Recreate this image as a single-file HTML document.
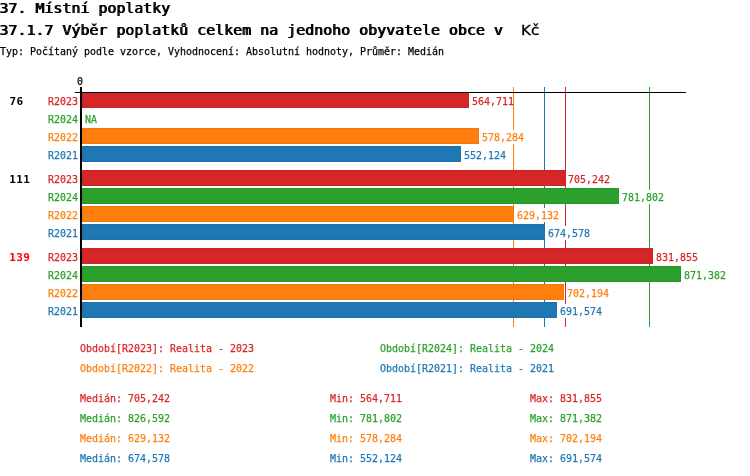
<!DOCTYPE html>
<html lang="cs"><head><meta charset="utf-8"><title>37. Místní poplatky</title>
<style>
html,body{margin:0;padding:0;background:#fff;}
body{width:750px;height:476px;position:relative;overflow:hidden;font-family:"DejaVu Sans Mono","Liberation Mono",monospace;font-size:11px;color:#000;}
.t{position:absolute;white-space:pre;line-height:14px;height:14px;-webkit-text-stroke:0.25px currentColor;transform:scaleX(0.9060);transform-origin:0 0;}
.h{-webkit-text-stroke:0;font-size:13.7px;text-shadow:0.9px 0 0 currentColor;line-height:16px;height:16px;transform:scaleX(1.0912);}
.k{position:absolute;font-family:"DejaVu Sans","Liberation Sans",sans-serif;-webkit-text-stroke:0.3px #000;font-size:13.5px;transform:scaleX(1.12);transform-origin:0 0;line-height:20px;height:20px;white-space:pre;}
.n{-webkit-text-stroke:0;font-weight:bold;transform:none;letter-spacing:0.38px;}
.b{position:absolute;height:16px;left:82px;box-shadow:inset 0 0 0 1px rgba(0,0,0,.06);}
.l{position:absolute;width:1px;top:87px;height:240px;}
.w{position:absolute;height:14px;width:42px;background:#fff;}
.r{color:#d62728}.g{color:#2ca02c}.o{color:#ff7f0e}.u{color:#1f77b4}
.br{background:#d62728}.bg{background:#2ca02c}.bo{background:#ff7f0e}.bu{background:#1f77b4}
</style></head><body>

<div class="t h" style="left:-1px;top:0px;">37. Místní poplatky</div>
<div class="t h" style="left:-1px;top:22px;">37.1.7 Výběr poplatků celkem na jednoho obyvatele obce v  </div>
<div class="k" style="left:521px;top:20px">Kč</div>
<div class="t " style="left:0px;top:45px;">Typ: Počítaný podle vzorce, Vyhodnocení: Absolutní hodnoty, Průměr: Medián</div>
<div class="t " style="left:77px;top:75px;">0</div>
<div class="l bo" style="left:513px"></div>
<div class="l bu" style="left:544px"></div>
<div class="l br" style="left:565px"></div>
<div class="l bg" style="left:649px"></div>
<div class="t n" style="left:9.5px;top:95px;color:#000">76</div>
<div class="t r" style="left:47.7px;top:95px;">R2023</div>
<div class="b br" style="top:92px;width:387px"></div>
<div class="w" style="left:471px;top:94px"></div>
<div class="t r" style="left:472.2px;top:95px;">564,711</div>
<div class="t g" style="left:47.7px;top:113px;">R2024</div>
<div class="t g" style="left:85px;top:113px;">NA</div>
<div class="t o" style="left:47.7px;top:131px;">R2022</div>
<div class="b bo" style="top:128px;width:397px"></div>
<div class="w" style="left:481px;top:130px"></div>
<div class="t o" style="left:482.2px;top:131px;">578,284</div>
<div class="t u" style="left:47.7px;top:149px;">R2021</div>
<div class="b bu" style="top:146px;width:379px"></div>
<div class="w" style="left:463px;top:148px"></div>
<div class="t u" style="left:464.2px;top:149px;">552,124</div>
<div class="t n" style="left:9.3px;top:173px;color:#000">111</div>
<div class="t r" style="left:47.7px;top:173px;">R2023</div>
<div class="b br" style="top:170px;width:483px"></div>
<div class="w" style="left:567px;top:172px"></div>
<div class="t r" style="left:568.2px;top:173px;">705,242</div>
<div class="t g" style="left:47.7px;top:191px;">R2024</div>
<div class="b bg" style="top:188px;width:537px"></div>
<div class="w" style="left:621px;top:190px"></div>
<div class="t g" style="left:622.2px;top:191px;">781,802</div>
<div class="t o" style="left:47.7px;top:209px;">R2022</div>
<div class="b bo" style="top:206px;width:432px"></div>
<div class="w" style="left:516px;top:208px"></div>
<div class="t o" style="left:517.2px;top:209px;">629,132</div>
<div class="t u" style="left:47.7px;top:227px;">R2021</div>
<div class="b bu" style="top:224px;width:463px"></div>
<div class="w" style="left:547px;top:226px"></div>
<div class="t u" style="left:548.2px;top:227px;">674,578</div>
<div class="t n" style="left:9.3px;top:251px;color:#f00">139</div>
<div class="t r" style="left:47.7px;top:251px;">R2023</div>
<div class="b br" style="top:248px;width:571px"></div>
<div class="w" style="left:655px;top:250px"></div>
<div class="t r" style="left:656.2px;top:251px;">831,855</div>
<div class="t g" style="left:47.7px;top:269px;">R2024</div>
<div class="b bg" style="top:266px;width:599px"></div>
<div class="w" style="left:683px;top:268px"></div>
<div class="t g" style="left:684.2px;top:269px;">871,382</div>
<div class="t o" style="left:47.7px;top:287px;">R2022</div>
<div class="b bo" style="top:284px;width:482px"></div>
<div class="w" style="left:566px;top:286px"></div>
<div class="t o" style="left:567.2px;top:287px;">702,194</div>
<div class="t u" style="left:47.7px;top:305px;">R2021</div>
<div class="b bu" style="top:302px;width:475px"></div>
<div class="w" style="left:559px;top:304px"></div>
<div class="t u" style="left:560.2px;top:305px;">691,574</div>
<div style="position:absolute;left:75px;top:92px;width:611px;height:1px;background:#000"></div>
<div style="position:absolute;left:80px;top:87px;width:2px;height:240px;background:#000"></div>
<div class="t r" style="left:80px;top:342px;">Období[R2023]: Realita - 2023</div>
<div class="t g" style="left:380px;top:342px;">Období[R2024]: Realita - 2024</div>
<div class="t o" style="left:80px;top:362px;">Období[R2022]: Realita - 2022</div>
<div class="t u" style="left:380px;top:362px;">Období[R2021]: Realita - 2021</div>
<div class="t r" style="left:80px;top:392px;">Medián: 705,242</div>
<div class="t r" style="left:330px;top:392px;">Min: 564,711</div>
<div class="t r" style="left:530px;top:392px;">Max: 831,855</div>
<div class="t g" style="left:80px;top:412px;">Medián: 826,592</div>
<div class="t g" style="left:330px;top:412px;">Min: 781,802</div>
<div class="t g" style="left:530px;top:412px;">Max: 871,382</div>
<div class="t o" style="left:80px;top:432px;">Medián: 629,132</div>
<div class="t o" style="left:330px;top:432px;">Min: 578,284</div>
<div class="t o" style="left:530px;top:432px;">Max: 702,194</div>
<div class="t u" style="left:80px;top:452px;">Medián: 674,578</div>
<div class="t u" style="left:330px;top:452px;">Min: 552,124</div>
<div class="t u" style="left:530px;top:452px;">Max: 691,574</div>
</body></html>
